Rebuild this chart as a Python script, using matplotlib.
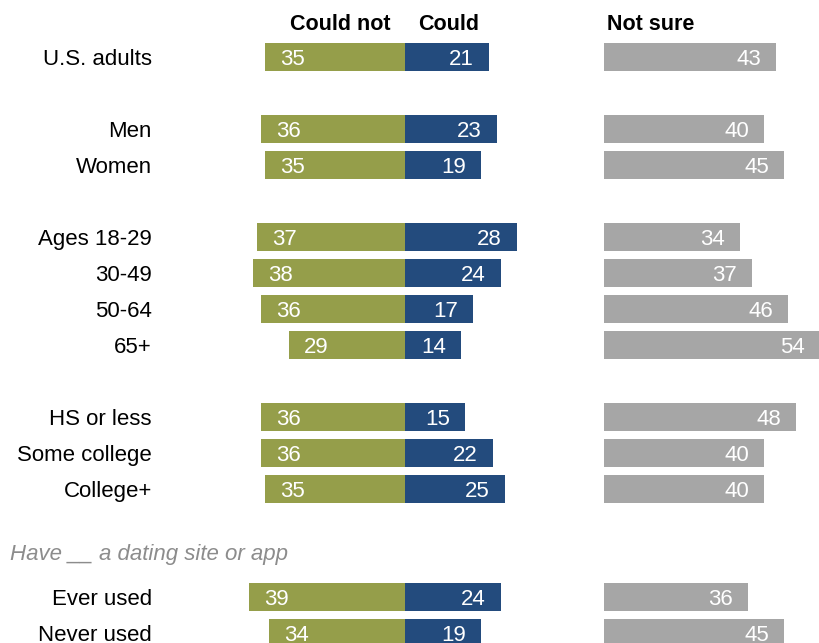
import matplotlib
matplotlib.use("Agg")
import matplotlib.pyplot as plt

plt.rcParams['font.family'] = ['Liberation Sans Narrow', 'Liberation Sans', 'DejaVu Sans']

# Survey groups and their shares (%)
groups = ['U.S. adults', 'Men', 'Women', 'Ages 18-29', '30-49', '50-64', '65+',
          'HS or less', 'Some college', 'College+', 'Ever used', 'Never used']
could_not = [35, 36, 35, 37, 38, 36, 29, 36, 36, 35, 39, 34]
could = [21, 23, 19, 28, 24, 17, 14, 15, 22, 25, 24, 19]
not_sure = [43, 40, 45, 34, 37, 46, 54, 48, 40, 40, 36, 45]

# Row slots, leaving gaps between the blocks of groups
rows = [0, 2, 3, 5, 6, 7, 8, 10, 11, 12, 15, 16]
subtitle_row = 13.75

OLIVE = '#959e4a'
NAVY = '#234b7d'
GRAY = '#a6a6a6'
NS_OFFSET = 49.8   # where the "Not sure" bars start
BAR_H = 0.79
DY = 0.06          # nudge text down so it sits centred on the bars

fig = plt.figure(figsize=(8.19, 6.43), dpi=100)
ax = fig.add_axes([0, 0, 1, 1])
ax.set_xlim(-101.25, 103.5)
ax.set_ylim(16.28, -1.583)
ax.axis('off')

ax.barh(rows, [-v for v in could_not], height=BAR_H, color=OLIVE)
ax.barh(rows, could, height=BAR_H, color=NAVY)
ax.barh(rows, not_sure, left=NS_OFFSET, height=BAR_H, color=GRAY)

fs = 15.5
nfs = 16
for r, g, cn, c, ns in zip(rows, groups, could_not, could, not_sure):
    y = r + DY
    ax.text(-63.3, y, g, ha='right', va='center', fontsize=fs + 0.5, color='black')
    ax.text(-cn + 3.8, y, str(cn), ha='left', va='center', fontsize=nfs, color='white')
    ax.text(c - 3.8, y, str(c), ha='right', va='center', fontsize=nfs, color='white')
    ax.text(NS_OFFSET + ns - 3.8, y, str(ns), ha='right', va='center', fontsize=nfs, color='white')

# column headings
ax.text(-3.6, -0.97 + DY, 'Could not', ha='right', va='center', fontsize=fs, fontweight='bold')
ax.text(3.3, -0.97 + DY, 'Could', ha='left', va='center', fontsize=fs, fontweight='bold')
ax.text(50.5, -0.97 + DY, 'Not sure', ha='left', va='center', fontsize=fs, fontweight='bold')

ax.text(-98.8, subtitle_row + DY, 'Have __ a dating site or app', ha='left', va='center',
        fontsize=16, style='italic', color='#8c8c8c')

fig.savefig('out.png', dpi=100)
